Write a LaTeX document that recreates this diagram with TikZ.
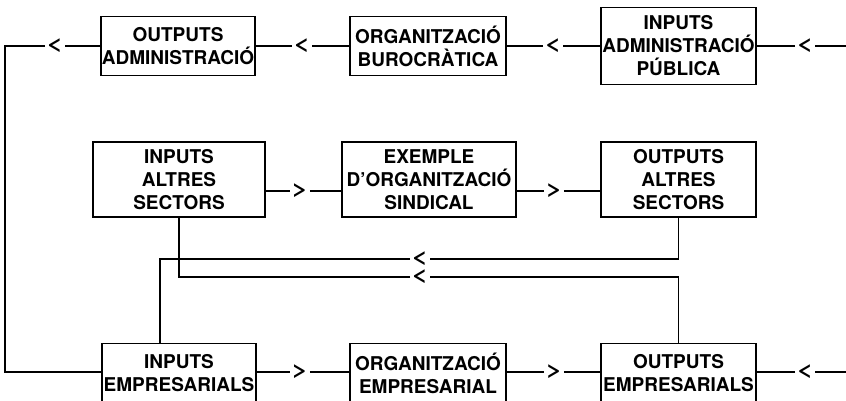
\documentclass[tikz,border=0pt]{standalone}
\usepackage{fontspec}
\setmainfont{TeX Gyre Heros}
\usetikzlibrary{positioning,calc}

\begin{document}
\begin{tikzpicture}[x=1pt, y=-1pt, line width=1.9pt,
    box/.style={draw, align=center, inner sep=0pt, font=\fontsize{19}{23}\selectfont\bfseries,
        execute at begin node={\rule{0pt}{20.5pt}}},
    chev/.style={inner sep=0.6pt, font=\fontsize{19.5}{19.5}\selectfont\bfseries}]
    \clip (0,0) rectangle (846,401);
    % top row
    \node[box, minimum width=154pt, minimum height=59pt] (oa) at (178,46) {OUTPUTS\\ADMINISTRACIÓ};
    \node[box, minimum width=156pt, minimum height=59pt] (ob) at (428,46) {ORGANITZACIÓ\\BUROCRÀTICA};
    \node[box, minimum width=155pt, minimum height=77pt] (ia) at (678.5,46) {INPUTS\\ADMINISTRACIÓ\\PÚBLICA};
    % middle row
    \node[box, minimum width=172pt, minimum height=75pt] (ias) at (179,179.5) {INPUTS\\ALTRES\\SECTORS};
    \node[box, minimum width=174pt, minimum height=75pt] (ex) at (429,179.5) {EXEMPLE\\D'ORGANITZACIÓ\\SINDICAL};
    \node[box, minimum width=155pt, minimum height=75pt] (oas) at (678.5,179.5) {OUTPUTS\\ALTRES\\SECTORS};
    % bottom row
    \node[box, minimum width=154pt, minimum height=59pt] (ie) at (179,373) {INPUTS\\EMPRESARIALS};
    \node[box, minimum width=156pt, minimum height=59pt] (oe2) at (428,373) {ORGANITZACIÓ\\EMPRESARIAL};
    \node[box, minimum width=155pt, minimum height=59pt] (oe) at (678.5,373) {OUTPUTS\\EMPRESARIALS};

    \node[chev] (l1) at (55,46) {\scalebox{1.45}[1]{<}};
    \node[chev] (l2) at (302,46) {\scalebox{1.45}[1]{<}};
    \node[chev] (l3) at (553,46) {\scalebox{1.45}[1]{<}};
    \node[chev] (l4) at (805,46) {\scalebox{1.45}[1]{<}};
    \node[chev] (g1) at (300,191) {\scalebox{1.45}[1]{>}};
    \node[chev] (g2) at (554,191) {\scalebox{1.45}[1]{>}};
    \node[chev] (l6) at (420,259) {\scalebox{1.45}[1]{<}};
    \node[chev] (l7) at (420,277) {\scalebox{1.45}[1]{<}};
    \node[chev] (g3) at (300,372) {\scalebox{1.45}[1]{>}};
    \node[chev] (g4) at (554,372) {\scalebox{1.45}[1]{>}};
    \node[chev] (l5) at (805,372) {\scalebox{1.45}[1]{<}};

    \coordinate (tl) at (5,46);
    \coordinate (bl) at (5,372);
    \coordinate (tr) at (846,46);
    \coordinate (br) at (846,372);
    \coordinate (k1) at (160,259);

    \draw (tr) -- (l4) -- (ia);
    \draw (ia) -- (l3) -- (ob);
    \draw (ob) -- (l2) -- (oa);
    \draw (oa) -- (l1);
    \draw (l1) -- (tl) -- (bl) -- (ie.west |- bl);

    \draw (ias.east |- g1) -- (g1) -- (ex.west |- g1);
    \draw (ex.east |- g2) -- (g2) -- (oas.west |- g2);
    \draw (ie.east |- g3) -- (g3) -- (oe2.west |- g3);
    \draw (oe2.east |- g4) -- (g4) -- (oe.west |- g4);
    \draw (br) -- (l5) -- (oe.east |- l5);

    \draw (oas.south) |- (l6);
    \draw (l6) -- (k1) -- (k1 |- ie.north);
    \draw (oe.north) |- (l7);
    \draw (l7) -- (ias.south |- l7) -- (ias.south);
\end{tikzpicture}
\end{document}
